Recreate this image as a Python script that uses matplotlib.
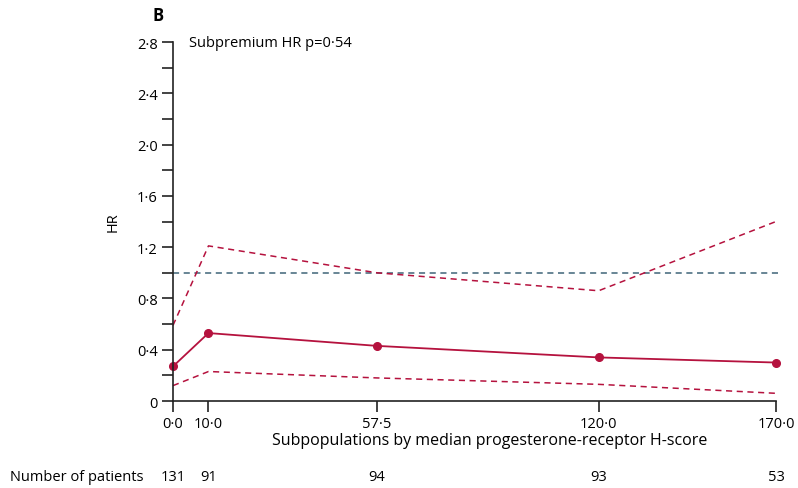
import numpy as np
import matplotlib
matplotlib.use("Agg")
import matplotlib.pyplot as plt
import matplotlib.transforms as mtransforms

plt.rcParams['font.family'] = ['Open Sans', 'DejaVu Sans']

# data
hscore = [0.0, 10.0, 57.5, 120.0, 170.0]
hscore_labels = ['0·0', '10·0', '57·5', '120·0', '170·0']
hr = [0.27, 0.53, 0.43, 0.34, 0.30]
hr_upper = [0.59, 1.21, 1.00, 0.86, 1.40]
hr_lower = [0.12, 0.23, 0.18, 0.13, 0.06]
n_patients = [131, 91, 94, 93, 53]
yticks = [0, 0.4, 0.8, 1.2, 1.6, 2.0, 2.4, 2.8]
yticklabels = ['0', '0·4', '0·8', '1·2', '1·6', '2·0', '2·4', '2·8']

red = '#b5123e'
teal = '#3e6478'

fig = plt.figure(figsize=(7.98, 4.89), dpi=100)
ax = fig.add_axes([0.2168, 0.1779, 0.9724 - 0.2168, 0.912 - 0.1779])

ax.plot([0, 171.5], [1, 1], color=teal, lw=1.1, ls=(0, (4, 3)), clip_on=False)
ax.plot(hscore, hr_upper, color=red, lw=1.1, ls=(0, (4, 3)), clip_on=False)
ax.plot(hscore, hr_lower, color=red, lw=1.1, ls=(0, (4, 3)), clip_on=False)
ax.plot(hscore, hr, color=red, lw=1.3, marker='o', ms=5.5, clip_on=False)

ax.set_xlim(0, 170)
ax.set_ylim(0, 2.8)
ax.set_xticks(hscore)
ax.set_xticklabels(hscore_labels)
ax.set_yticks(yticks)
ax.set_yticklabels(yticklabels)
ax.set_yticks(np.arange(0.2, 2.8, 0.4), minor=True)
for s in ['top', 'right']:
    ax.spines[s].set_visible(False)
for s in ['left', 'bottom']:
    ax.spines[s].set_linewidth(1.2)
    ax.spines[s].set_color('#222222')
ax.tick_params(which='both', length=8, width=1.2, color='#222222', labelsize=10.5, pad=3)
ax.tick_params(axis='x', length=8)

ax.set_ylabel('HR', fontsize=10.5, labelpad=12)
ax.set_xlabel('Subpopulations by median progesterone-receptor H-score', fontsize=11.5)
ax.xaxis.set_label_coords(0.525, -0.085)
ax.text(0.027, 0.998, 'Subpremium HR p=0·54', transform=ax.transAxes, fontsize=10.5, va='center', ha='left')
fig.text(153 / 798, 1 - 16 / 489, 'B', fontsize=12, fontweight='bold', ha='left', va='center')

trans = mtransforms.blended_transform_factory(ax.transData, fig.transFigure)
fig.text(10 / 798, 1 - 478 / 489, 'Number of patients', fontsize=10.5, ha='left', va='center')
for x, n in zip(hscore, n_patients):
    ax.text(x, 1 - 478 / 489, str(n), transform=trans, fontsize=10.5, ha='center', va='center')

fig.savefig('out.png', dpi=100)
